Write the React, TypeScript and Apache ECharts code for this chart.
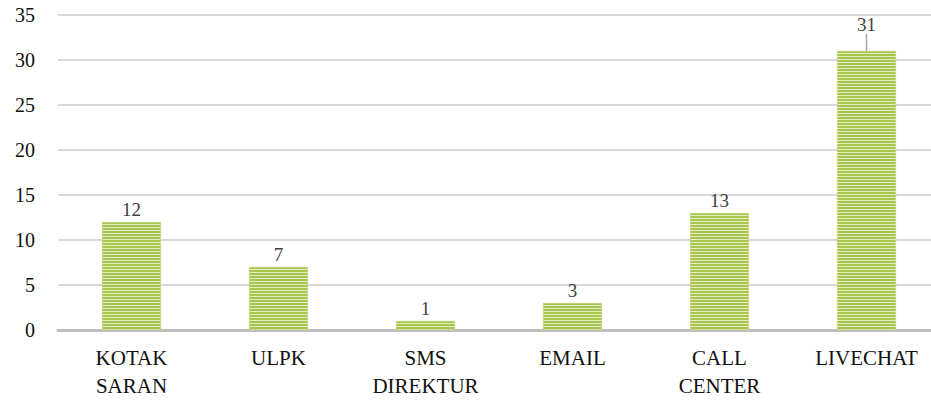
import React, { useEffect, useRef } from "react";
import * as echarts from "echarts";

const categories = ["KOTAK\nSARAN", "ULPK", "SMS\nDIREKTUR", "EMAIL", "CALL\nCENTER", "LIVECHAT"];
const values = [12, 7, 1, 3, 13, 31];
const yTicks = { min: 0, max: 35, interval: 5 };

function makeStripe(): string {
  const c = document.createElement("canvas");
  c.width = 4;
  c.height = 3;
  const ctx = c.getContext("2d")!;
  ctx.fillStyle = "#a8c64c";
  ctx.fillRect(0, 0, 4, 2);
  ctx.fillStyle = "#e3edc3";
  ctx.fillRect(0, 2, 4, 1);
  return c.toDataURL();
}

export default function App() {
  const ref = useRef<HTMLDivElement>(null);
  useEffect(() => {
    document.body.style.margin = "0";
    const chart = echarts.init(ref.current!, null, { renderer: "svg" });
    const font = "Liberation Serif";
    const seriesData = values.map((v, i) =>
      i === values.length - 1
        ? { value: v, labelLine: { show: true, lineStyle: { color: "#a6a6a6", width: 1.5 } } }
        : { value: v }
    );
    chart.setOption({
      animation: false,
      grid: { left: 58, top: 15, right: 0, bottom: 71, containLabel: false },
      xAxis: {
        type: "category",
        data: categories,
        axisTick: { show: false },
        axisLine: { lineStyle: { color: "#bfbfbf", width: 3 } },
        axisLabel: { color: "#111", fontFamily: font, fontSize: 21, lineHeight: 28, margin: 14, interval: 0 },
      },
      yAxis: {
        type: "value",
        min: yTicks.min,
        max: yTicks.max,
        interval: yTicks.interval,
        axisLine: { show: false },
        axisTick: { show: false },
        splitLine: { lineStyle: { color: "#d9d9d9", width: 2 } },
        axisLabel: { color: "#111", fontFamily: font, fontSize: 20, margin: 23 },
      },
      series: [
        {
          type: "bar",
          data: seriesData,
          barWidth: "40%",
          itemStyle: {
            color: { image: makeStripe(), repeat: "repeat" },
            borderColor: "#b6d062",
            borderWidth: 0.5,
          },
          label: {
            show: true,
            position: "top",
            distance: 3,
            color: "#404040",
            fontFamily: font,
            fontSize: 19,
          },
          labelLayout: (p: any) => (p.dataIndex === 5 ? { dy: -14 } : {}),
          labelLine: { show: false },
        },
      ],
    });
    return () => chart.dispose();
  }, []);
  return (
    <div style={{ width: 931, height: 401, overflow: "hidden", position: "relative" }}>
      <div ref={ref} style={{ width: 940, height: 401 }} />
    </div>
  );
}
